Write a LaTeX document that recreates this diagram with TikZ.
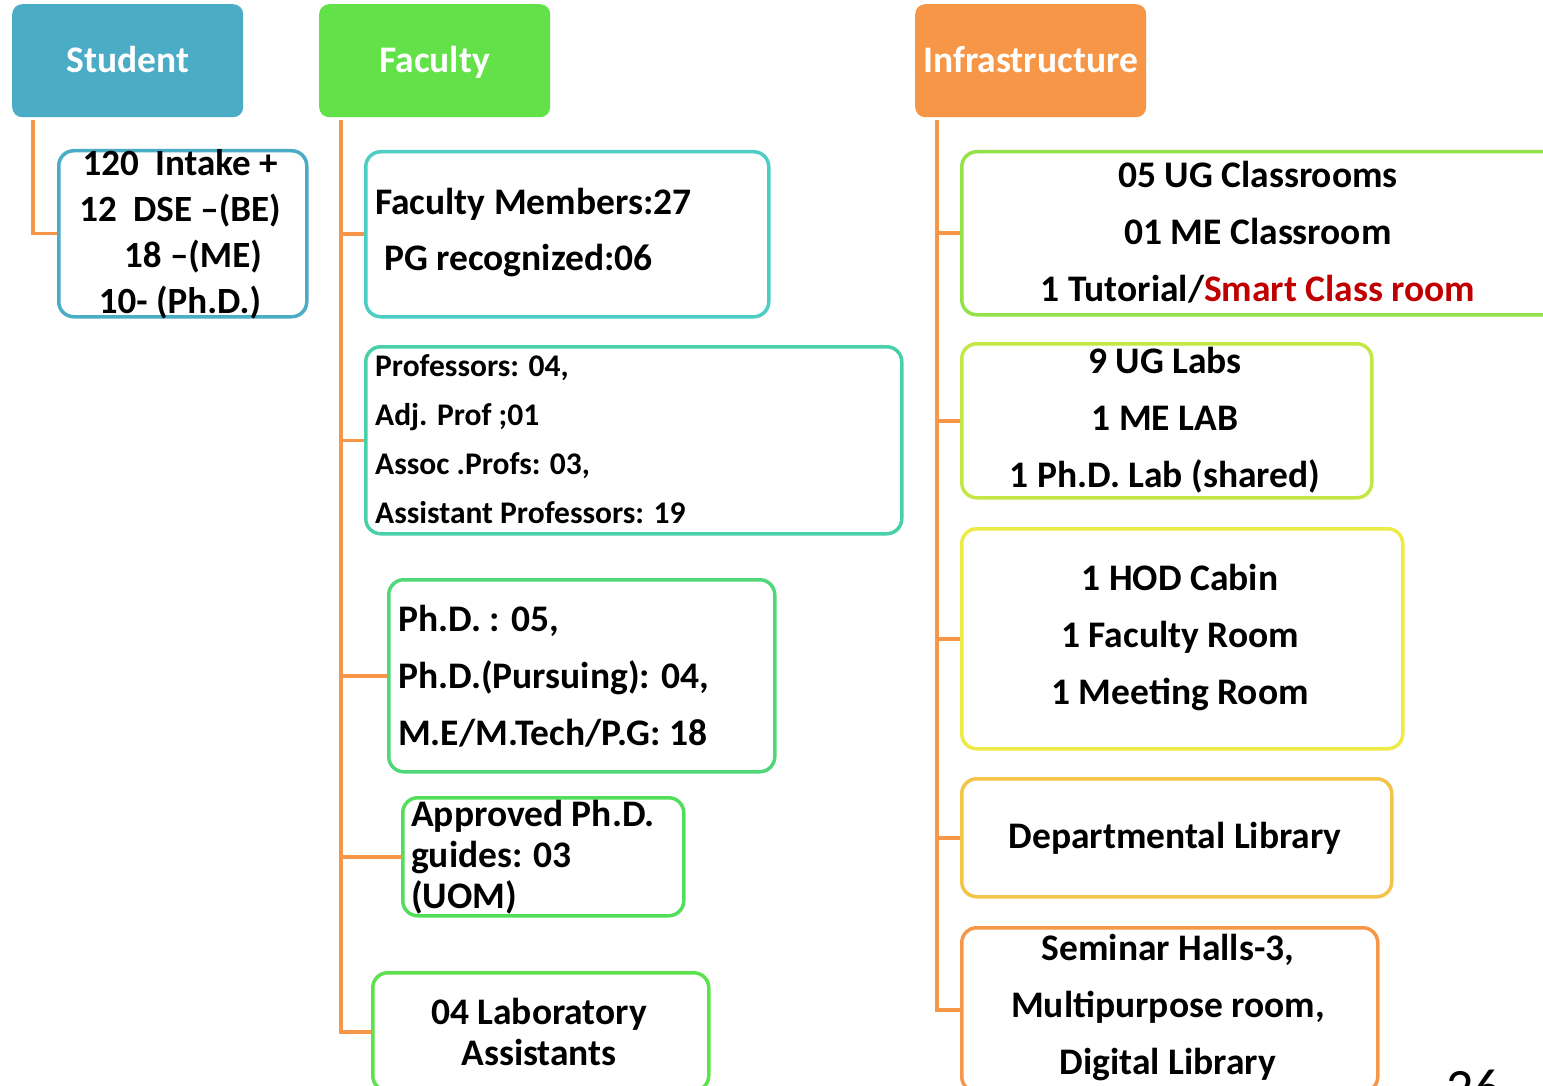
\documentclass[tikz,border=0pt]{standalone}
\usepackage{fontspec}
\setmainfont{Carlito}
\definecolor{stublue}{RGB}{75,172,198}
\definecolor{facgreen}{RGB}{98,226,72}
\definecolor{infraorange}{RGB}{247,150,70}
\definecolor{cfa}{RGB}{78,205,196}
\definecolor{cfb}{RGB}{72,208,170}
\definecolor{cfc}{RGB}{80,216,120}
\definecolor{cfd}{RGB}{82,222,90}
\definecolor{cfe}{RGB}{92,226,76}
\definecolor{cia}{RGB}{146,226,72}
\definecolor{cib}{RGB}{195,232,70}
\definecolor{cic}{RGB}{238,234,70}
\definecolor{cid}{RGB}{244,196,72}
\definecolor{cie}{RGB}{247,150,70}
\definecolor{smartred}{RGB}{192,0,0}
\begin{document}
\begin{tikzpicture}[x=1pt,y=-1pt,
  hdr/.style={fill=#1, rounded corners=10pt, minimum width=231pt, minimum height=113pt, anchor=north west, inner sep=0pt},
  bx/.style={draw=#1, line width=3.5pt, rounded corners=15pt, anchor=north west, inner sep=0pt},
  conn/.style={draw=infraorange, line width=3.5pt},
  htxt/.style={text=white, inner sep=0pt, anchor=base, font=\bfseries\fontsize{37.5}{40}\selectfont},
  txt/.style={inner sep=0pt, text=black, font=\bfseries\fontsize{37.5}{57}\selectfont},
  txts/.style={inner sep=0pt, text=black, font=\bfseries\fontsize{37}{46}\selectfont},
  txtm/.style={inner sep=0pt, text=black, font=\bfseries\fontsize{31.5}{49}\selectfont},
  txtt/.style={inner sep=0pt, text=black, font=\bfseries\fontsize{37.5}{41}\selectfont}]
\useasboundingbox[fill=white] (0,0) rectangle (1543,1086);
% headers
\node[hdr=stublue] (sh) at (12,4) {};
\node[hdr=facgreen] (fh) at (319,4) {};
\node[hdr=infraorange] (ih) at (915,4) {};
\node[htxt] (sht) at (sh.center |- 0,73) {Student};
\node[htxt] (fht) at (fh.center |- 0,73) {Faculty};
\node[htxt] (iht) at (ih.center |- 0,73) {Infrastructure};
% boxes
\node[bx=stublue, minimum width=248pt, minimum height=166pt] (s1) at (57,149) {};
\node[bx=cfa, minimum width=403pt, minimum height=165pt] (f1) at (364,150) {};
\node[bx=cfb, minimum width=536pt, minimum height=187pt] (f2) at (364,345) {};
\node[bx=cfc, minimum width=386pt, minimum height=192pt] (f3) at (387,578) {};
\node[bx=cfd, minimum width=281pt, minimum height=118pt] (f4) at (401,796) {};
\node[bx=cfe, minimum width=336pt, minimum height=118pt] (f5) at (371,971) {};
\node[bx=cia, minimum width=600pt, minimum height=163pt] (i1) at (960,150) {};
\node[bx=cib, minimum width=410pt, minimum height=154pt] (i2) at (960,342) {};
\node[bx=cic, minimum width=441pt, minimum height=220pt] (i3) at (960,527) {};
\node[bx=cid, minimum width=430pt, minimum height=118pt] (i4) at (960,777) {};
\node[bx=cie, minimum width=416pt, minimum height=164pt] (i5) at (960,926) {};
% connectors
\coordinate (st) at (33,120);
\coordinate (ft) at (341,120);
\coordinate (it) at (937,120);
\draw[conn] (st) |- (s1.west);
\draw[conn] (ft) |- (f5.west);
\foreach \b in {f1,f2,f3,f4} \draw[conn] (ft |- \b.west) -- (\b.west);
\draw[conn] (it) |- (i5.west);
\foreach \b in {i1,i2,i3,i4} \draw[conn] (it |- \b.west) -- (\b.west);
% texts
\node[txts, align=center] (s1t) at (180,234) {120\hspace{8pt} Intake +\\12\hspace{8pt} DSE –(BE)\\\hspace*{26pt}18 –(ME)\\10- (Ph.D.)};
\node[txt, align=left, anchor=west] (f1a) at (375,204) {Faculty Members:27};
\node[txt, align=left, anchor=west] (f1b) at (384,261) {PG recognized:06};
\node[txtm, align=left, anchor=west] (f2t) at (375,439) {Professors: 04,\\Adj. Prof ;01\\Assoc .Profs: 03,\\Assistant Professors: 19};
\node[txt, align=left, anchor=west] (f3t) at (398,676) {Ph.D. : 05,\\Ph.D.(Pursuing): 04,\\M.E/M.Tech/P.G: 18};
\node[txtt, align=left, anchor=west] (f4t) at (411,857) {Approved Ph.D.\\guides: 03\\(UOM)};
\node[txtt, align=center] (f5t) at (539,1032) {04 Laboratory\\Assistants};
\node[txt, align=center] (i1t) at (1258,232) {05 UG Classrooms\\01 ME Classroom\\1 Tutorial/\textcolor{smartred}{Smart Class room}};
\node[txt, align=center] (i2t) at (1165,420) {9 UG Labs\\1 ME LAB\\1 Ph.D. Lab (shared)};
\node[txt, align=center] (i3t) at (1180,638) {1 HOD Cabin\\1 Faculty Room\\1 Meeting Room};
\node[txt, align=center] (i4t) at (1175,838) {Departmental Library};
\node[txt, align=center] (i5t) at (1168,1008) {Seminar Halls-3,\\Multipurpose room,\\Digital Library};
\node[inner sep=0pt, anchor=base west, font=\fontsize{54}{58}\selectfont] (pg) at (1446,1106) {26};
\end{tikzpicture}
\end{document}
